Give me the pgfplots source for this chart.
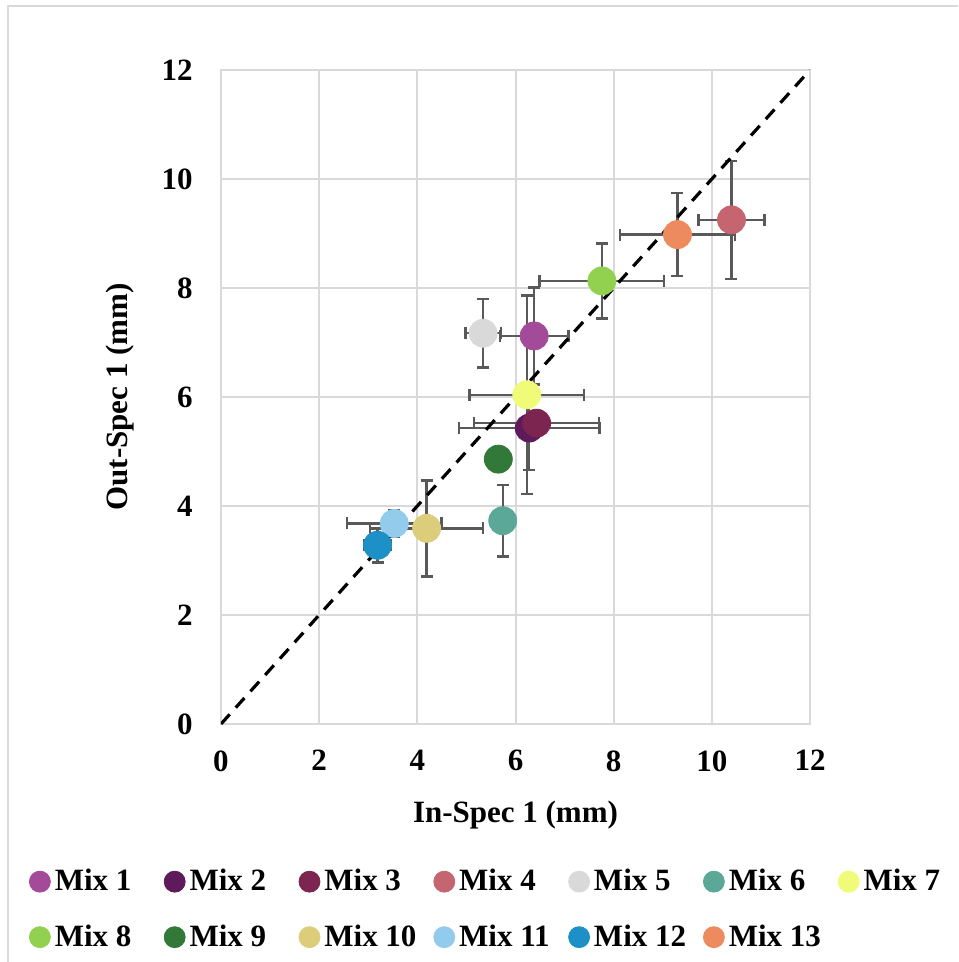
\documentclass[border=0pt]{standalone}
\usepackage{fontspec}
\setmainfont{Liberation Serif}
\usepackage{pgfplots}
\pgfplotsset{compat=1.18}
\usepackage{pgfplotstable}

\definecolor{m1}{HTML}{A34A99}
\definecolor{m2}{HTML}{5E1A5A}
\definecolor{m3}{HTML}{7B2550}
\definecolor{m4}{HTML}{C46570}
\definecolor{m5}{HTML}{D9D9D9}
\definecolor{m6}{HTML}{5CA898}
\definecolor{m7}{HTML}{F0FB78}
\definecolor{m8}{HTML}{92D050}
\definecolor{m9}{HTML}{317839}
\definecolor{m10}{HTML}{DCCD7A}
\definecolor{m11}{HTML}{92CBEB}
\definecolor{m12}{HTML}{1E90C8}
\definecolor{m13}{HTML}{EE8B5E}
\definecolor{gridgray}{HTML}{D9D9D9}
\definecolor{errgray}{HTML}{595959}

\pgfplotstableread{
x     y     ex    ey
6.38  7.12  0.70  0.89
6.28  5.43  1.43  0.77
6.43  5.52  1.27  0.20
10.40 9.25  0.67  1.08
5.34  7.17  0.36  0.63
5.74  3.73  0.20  0.66
6.23  6.04  1.17  1.82
7.76  8.13  1.27  0.69
5.65  4.86  0.20  0.20
4.19  3.59  1.15  0.88
3.53  3.68  0.96  0.25
3.19  3.28  0.27  0.32
9.30  8.98  1.17  0.76
}\mixdata

\pgfplotsset{
  mixplot/.style={only marks, mark=*, mark size=7pt, color=#1,
    mark options={draw=none, fill=#1},
    legend image code/.code={\fill[#1] (5.25pt,0pt) circle[radius=5.25pt];}},
}

\newcommand{\lbl}[1]{\makebox[54.5pt][l]{#1}}

\begin{document}
\begin{tikzpicture}
\path[use as bounding box] (-110.5pt,-119pt) rectangle (368.5pt,362pt);
\draw[gridgray, line width=1pt] (-106.5pt,-119pt) -- (-106.5pt,359pt) -- (368.5pt,359pt);
\begin{axis}[
  at={(0pt,0pt)}, anchor=origin,
  scale only axis, width=294.5pt, height=327pt,
  xmin=0, xmax=12, ymin=0, ymax=12,
  xtick={0,2,...,12}, ytick={0,2,...,12},
  grid=major, major grid style={gridgray, line width=1pt},
  axis line style={gridgray, line width=1pt},
  major tick length=0pt, tick style={draw=none},
  /pgf/number format/assume math mode=true,
  ticklabel style={font=\fontsize{15.5}{18}\selectfont\bfseries},
  xticklabel style={anchor=north, inner sep=0pt, yshift=-13pt},
  yticklabel style={anchor=east, inner sep=0pt, xshift=-14pt},
  label style={font=\fontsize{15.5}{18}\selectfont\bfseries},
  xlabel={In-Spec 1 (mm)}, ylabel={Out-Spec 1 (mm)},
  xlabel style={at={([yshift=-45.5pt]axis description cs:0.5,0)}, anchor=center},
  ylabel style={at={([xshift=-50.5pt]axis description cs:0,0.5)}, anchor=center},
  legend columns=7,
  legend cell align=left,
  legend style={at={([xshift=-96pt,yshift=-72.7pt]axis description cs:0,0)}, anchor=north west,
    draw=none, fill=none, inner sep=0pt, outer sep=0pt,
    font=\fontsize{15.5}{18}\selectfont\bfseries,
    nodes={inner sep=0pt},
    column sep=0pt, row sep=15.5pt,
    /tikz/every odd column/.append style={column sep=2pt}},
]
\addplot[only marks, mark=none, forget plot,
  error bars/.cd, x dir=both, y dir=both, x explicit, y explicit,
  error bar style={draw=errgray, solid, line width=1.2pt},
  error mark options={rotate=90, draw=errgray, mark size=3pt, line width=1.2pt}]
  table[x=x, y=y, x error=ex, y error=ey] {\mixdata};

\addplot[mixplot=m1] coordinates {(6.38,7.12)}; \addlegendentry{\lbl{Mix 1}}
\addplot[mixplot=m2] coordinates {(6.28,5.43)}; \addlegendentry{\lbl{Mix 2}}
\addplot[mixplot=m3] coordinates {(6.43,5.52)}; \addlegendentry{\lbl{Mix 3}}
\addplot[mixplot=m4] coordinates {(10.40,9.25)}; \addlegendentry{\lbl{Mix 4}}
\addplot[mixplot=m5] coordinates {(5.34,7.17)}; \addlegendentry{\lbl{Mix 5}}
\addplot[mixplot=m6] coordinates {(5.74,3.73)}; \addlegendentry{\lbl{Mix 6}}
\addplot[mixplot=m7] coordinates {(6.23,6.04)}; \addlegendentry{\lbl{Mix 7}}
\addplot[mixplot=m8] coordinates {(7.76,8.13)}; \addlegendentry{\lbl{Mix 8}}
\addplot[mixplot=m9] coordinates {(5.65,4.86)}; \addlegendentry{\lbl{Mix 9}}
\addplot[mixplot=m10] coordinates {(4.19,3.59)}; \addlegendentry{\lbl{Mix 10}}
\addplot[mixplot=m11] coordinates {(3.53,3.68)}; \addlegendentry{\lbl{Mix 11}}
\addplot[mixplot=m12] coordinates {(3.19,3.28)}; \addlegendentry{\lbl{Mix 12}}
\addplot[mixplot=m13] coordinates {(9.30,8.98)}; \addlegendentry{\lbl{Mix 13}}

\addplot[black, line width=1.6pt, dash pattern=on 6.5pt off 4.5pt, forget plot] coordinates {(0,0) (12,12)};
\end{axis}
\end{tikzpicture}
\end{document}
